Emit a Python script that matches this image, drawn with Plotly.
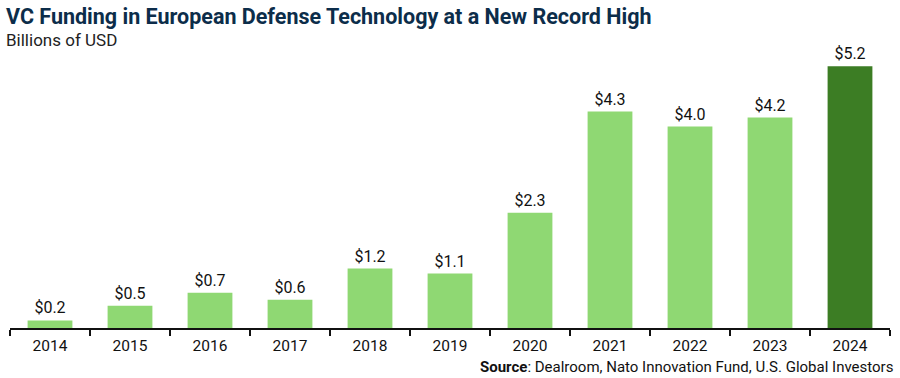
import plotly.graph_objects as go

years = ["2014", "2015", "2016", "2017", "2018", "2019", "2020", "2021", "2022", "2023", "2024"]
funding = [0.15, 0.44, 0.70, 0.56, 1.18, 1.08, 2.29, 4.30, 4.00, 4.18, 5.20]
labels = ["$0.2", "$0.5", "$0.7", "$0.6", "$1.2", "$1.1", "$2.3", "$4.3", "$4.0", "$4.2", "$5.2"]
colors = ["#8fd873"] * 10 + ["#3c7d24"]

FONT = "Roboto"

fig = go.Figure(go.Bar(
    x=years, y=funding, text=labels, textposition="outside",
    marker=dict(color=colors, line=dict(width=0)),
    textfont=dict(family=FONT, size=16, color="#111111"),
    cliponaxis=False, width=0.56, hoverinfo="skip",
))

fig.update_layout(
    width=900, height=378,
    margin=dict(l=10, r=10, t=40, b=50),
    plot_bgcolor="white", paper_bgcolor="white",
    showlegend=False,
    xaxis=dict(
        type="category", showline=True, linecolor="#111111", linewidth=2,
        ticks="outside", tickson="boundaries", ticklen=6, tickwidth=2, tickcolor="#111111",
        tickfont=dict(family=FONT, size=15.5, color="#111111"), showgrid=False,
        ticklabelstandoff=2, automargin=False,
    ),
    yaxis=dict(range=[0, 5.72], visible=False, showgrid=False),
    annotations=[
        dict(text="<b>VC Funding in European Defense Technology at a New Record High</b>",
             xref="paper", yref="paper", x=0, y=1, xanchor="left", yanchor="bottom",
             xshift=-6, yshift=9, showarrow=False,
             font=dict(family=FONT, size=21.5, color="#0c2d4a")),
        dict(text="Billions of USD", xref="paper", yref="paper", x=0, y=1,
             xanchor="left", yanchor="bottom", xshift=-6, yshift=-12, showarrow=False,
             font=dict(family=FONT, size=17, color="#222222")),
        dict(text="<b>Source</b>: Dealroom, Nato Innovation Fund, U.S. Global Investors",
             xref="paper", yref="paper", x=1, y=0, xanchor="right", yanchor="middle",
             xshift=5, yshift=-39, showarrow=False,
             font=dict(family=FONT, size=15, color="#111111")),
    ],
)

fig.write_html("out.html", config={"displayModeBar": False},
               post_script="document.body.style.margin='0';")
